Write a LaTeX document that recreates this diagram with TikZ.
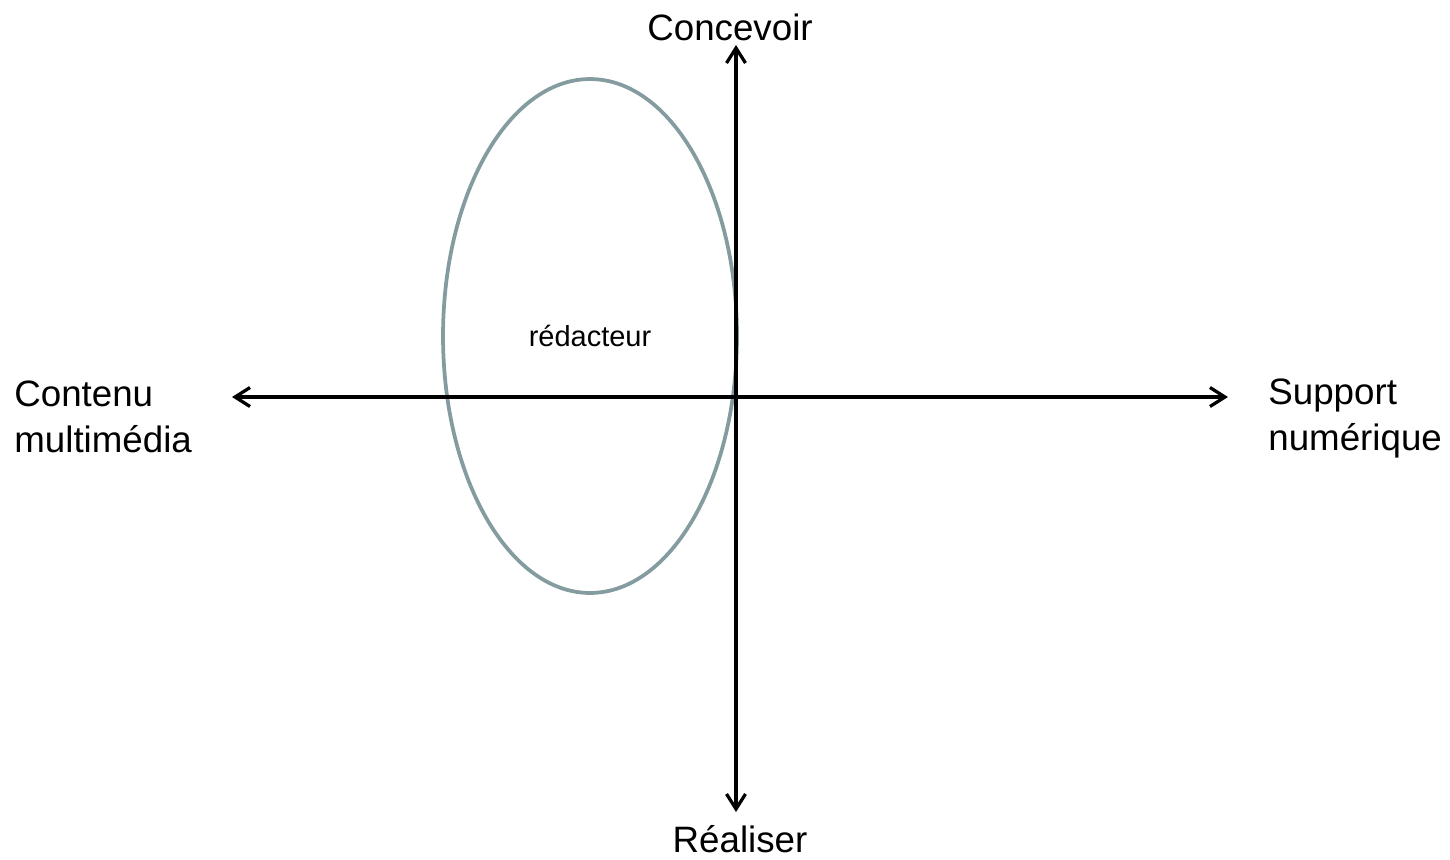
\documentclass[tikz,border=0pt]{standalone}
\usepackage{fontspec}
\setmainfont{Liberation Sans}
\usetikzlibrary{arrows.meta,shapes.geometric}

\definecolor{ellgray}{RGB}{132,156,160}

\tikzset{
  axis/.style={line width=0.065cm, -{Straight Barb[length=0.3cm,width=0.38cm,line width=0.065cm]}},
  biglabel/.style={inner sep=0pt, font=\fontsize{20.9}{26.2}\selectfont},
  rolebox/.style={ellipse, draw=ellgray, line width=0.075cm, inner sep=0pt,
    minimum width=5.88cm, minimum height=10.28cm,
    font=\fontsize{16.5}{20}\selectfont}
}

\begin{document}
\begin{tikzpicture}[x=0.02cm, y=-0.02cm]
    % --- cadre ---
    \useasboundingbox (0,0) rectangle (1450,859);

    % --- extremites des axes ---
    \coordinate (origine) at (736,397);
    \coordinate (haut) at (736,45);
    \coordinate (bas) at (736,812);
    \coordinate (gauche) at (232,397);
    \coordinate (droite) at (1228,397);

    % --- ellipse du redacteur ---
    \node[rolebox] (redacteur) at (590,336) {rédacteur};

    % --- axes ---
    \draw[axis] (origine) -- (haut);
    \draw[axis] (origine) -- (bas);
    \draw[axis] (origine) -- (gauche);
    \draw[axis] (origine) -- (droite);

    % --- etiquettes des axes ---
    \node[biglabel] (concevoir) at (730,27) {Concevoir};
    \node[biglabel] (realiser) at (740,839) {Réaliser};
    \node[biglabel, anchor=west, align=left] (contenu) at (14,417) {Contenu\\multimédia};
    \node[biglabel, anchor=west, align=left] (support) at (1268,418) {Support\\numérique};
\end{tikzpicture}
\end{document}
